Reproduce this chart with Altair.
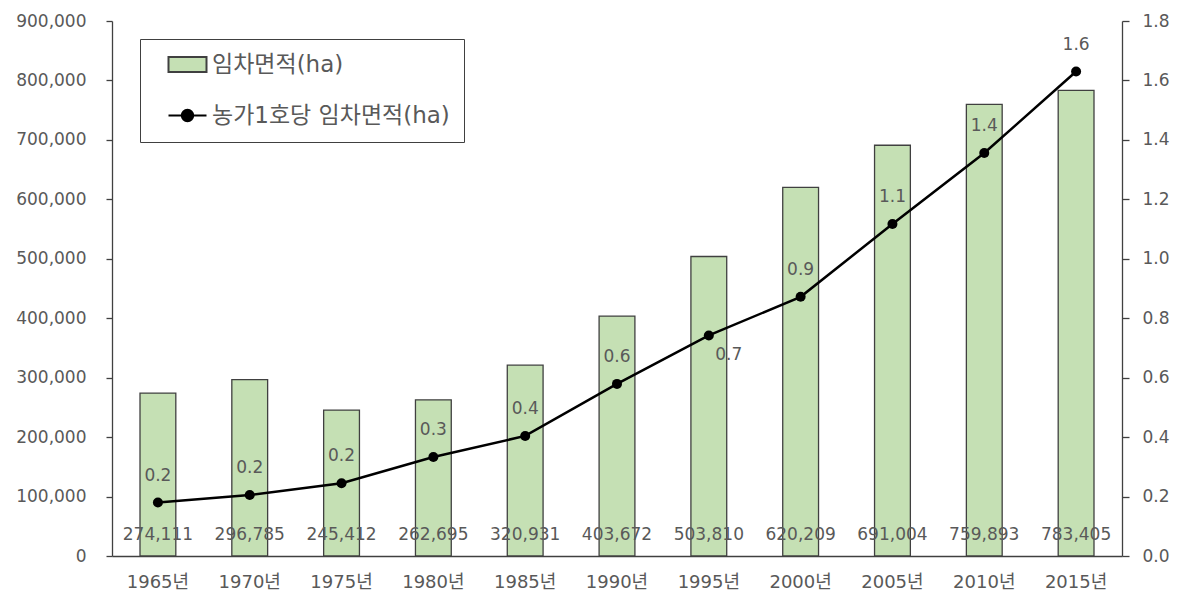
import altair as alt
import pandas as pd

years = ["1965년", "1970년", "1975년", "1980년", "1985년", "1990년",
         "1995년", "2000년", "2005년", "2010년", "2015년"]
area = [274111, 296785, 245412, 262695, 320931, 403672,
        503810, 620209, 691004, 759893, 783405]
per_farm = [0.18, 0.205, 0.245, 0.333, 0.404, 0.579,
            0.742, 0.872, 1.117, 1.356, 1.630]
series_names = ["임차면적(ha)", "농가1호당 임차면적(ha)"]
left_ticks = [0, 100000, 200000, 300000, 400000, 500000, 600000, 700000, 800000, 900000]
right_ticks = [0.0, 0.2, 0.4, 0.6, 0.8, 1.0, 1.2, 1.4, 1.6, 1.8]

df = pd.DataFrame({"year": years, "area": area, "per": per_farm})
leg_df = pd.DataFrame({"series": series_names})

FONT = "DejaVu Sans, Noto Sans CJK KR"
GRAY = "#595959"
DARK = "#404040"
FS = 17

x = alt.X("year:N", sort=years,
          scale=alt.Scale(paddingInner=0.61, paddingOuter=0.305),
          axis=alt.Axis(title=None, labelAngle=0, ticks=False, domainColor=DARK,
                        domainWidth=1.3, labelPadding=17, labelFontSize=18,
                        labelColor=GRAY, labelFont=FONT))

left_scale = alt.Scale(domain=[0, 900000], nice=False, zero=True)
left_axis = alt.Axis(title=None, values=left_ticks, format=",d", grid=False,
                     tickSize=6, tickColor=DARK, domainColor=DARK, domainWidth=1.3,
                     tickWidth=1.3, labelPadding=20, labelFontSize=FS,
                     labelColor=GRAY, labelFont=FONT)
right_scale = alt.Scale(domain=[0, 1.8], nice=False, zero=True)
right_axis = alt.Axis(title=None, orient="right", values=right_ticks, format=".1f",
                      grid=False, tickSize=7, tickColor=DARK, domainColor=DARK,
                      domainWidth=1.3, tickWidth=1.3, labelPadding=13,
                      labelFontSize=FS, labelColor=GRAY, labelFont=FONT)

bars = alt.Chart(df).mark_bar(fill="#c5e0b4", stroke=DARK, strokeWidth=1.3).encode(
    x=x, y=alt.Y("area:Q", scale=left_scale, axis=left_axis))
bar_labels = alt.Chart(df).transform_calculate(zero="0").mark_text(
    dy=-21, fontSize=FS, color=GRAY, font=FONT, baseline="middle").encode(
    x=x, y=alt.Y("zero:Q", scale=left_scale, axis=left_axis),
    text=alt.Text("area:Q", format=",d"))
left = alt.layer(bars, bar_labels)

y_r = alt.Y("per:Q", scale=right_scale, axis=right_axis)
line = alt.Chart(df).mark_line(color="black", strokeWidth=2.5).encode(x=x, y=y_r)
pts = alt.Chart(df).mark_circle(color="black", size=100, opacity=1).encode(x=x, y=y_r)
lbl = alt.Chart(df).transform_filter(alt.datum.year != "1995년").mark_text(
    dy=-27, fontSize=FS, color=GRAY, font=FONT, baseline="middle").encode(
    x=x, y=y_r, text=alt.Text("per:Q", format=".1f"))
lbl2 = alt.Chart(df).transform_filter(alt.datum.year == "1995년").mark_text(
    dx=20, dy=20, fontSize=FS, color=GRAY, font=FONT, baseline="middle").encode(
    x=x, y=y_r, text=alt.Text("per:Q", format=".1f"))

rect_path = "M-2,-0.8H2V0.8H-2Z"
line_path = "M-2,0H2M-0.6,0A0.6,0.6,0,1,0,0.6,0A0.6,0.6,0,1,0,-0.6,0Z"
legend = alt.Legend(title=None, orient="none", legendX=28, legendY=18,
                    direction="vertical", strokeColor=DARK, fillColor="white",
                    padding=14, symbolSize=361, symbolStrokeWidth=2,
                    symbolOffset=22, labelOffset=13, labelFontSize=23,
                    labelFont=FONT, labelColor=GRAY, labelLimit=400,
                    rowPadding=27, symbolOpacity=1)
leg_layer = alt.Chart(leg_df).mark_point(filled=True, opacity=0).encode(
    fill=alt.Fill("series:N", scale=alt.Scale(domain=series_names, range=["#c5e0b4", "black"]), legend=legend),
    stroke=alt.Stroke("series:N", scale=alt.Scale(domain=series_names, range=[DARK, "black"]), legend=legend),
    shape=alt.Shape("series:N", scale=alt.Scale(domain=series_names, range=[rect_path, line_path]), legend=legend),
)
right = alt.layer(line, pts, lbl, lbl2, leg_layer)

chart = alt.layer(left, right).resolve_scale(y="independent").properties(
    width=1010, height=535,
    padding={"left": 104, "top": 13, "right": 50, "bottom": 41},
    autosize=alt.AutoSizeParams(type="none"),
).configure_view(stroke=None)

chart.save("out.html", embed_options={"renderer": "svg", "actions": False})
